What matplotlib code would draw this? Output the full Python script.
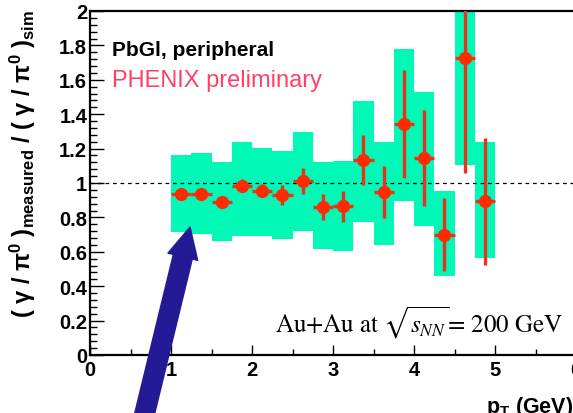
import matplotlib
matplotlib.use("Agg")
import matplotlib.pyplot as plt
from matplotlib.ticker import MultipleLocator

plt.rcParams['font.family'] = ['Liberation Sans', 'DejaVu Sans']
plt.rcParams['mathtext.fontset'] = 'custom'
plt.rcParams['mathtext.rm'] = 'Liberation Sans'
plt.rcParams['mathtext.it'] = 'Liberation Sans:italic'
plt.rcParams['mathtext.bf'] = 'Liberation Sans:bold'
plt.rcParams['mathtext.default'] = 'bf'

# double ratio per pT bin (0.25 GeV wide)
pt = [1.125, 1.375, 1.625, 1.875, 2.125, 2.375, 2.625, 2.875,
      3.125, 3.375, 3.625, 3.875, 4.125, 4.375, 4.625, 4.875]
ratio = [0.935, 0.935, 0.89, 0.985, 0.955, 0.93, 1.01, 0.86,
         0.864, 1.135, 0.946, 1.343, 1.145, 0.70, 1.725, 0.893]
stat = [0.02, 0.02, 0.02, 0.04, 0.037, 0.056, 0.075, 0.078,
        0.088, 0.146, 0.15, 0.315, 0.28, 0.21, 0.667, 0.37]
# systematic band limits
sys_lo = [0.713, 0.703, 0.665, 0.694, 0.69, 0.674, 0.719, 0.616,
          0.606, 0.775, 0.641, 0.897, 0.752, 0.457, 1.106, 0.562]
sys_hi = [1.165, 1.172, 1.124, 1.24, 1.205, 1.188, 1.294, 1.12,
          1.13, 1.478, 1.24, 1.779, 1.527, 0.955, 2.345, 1.236]
bin_w = 0.25

fig = plt.figure(figsize=(5.73, 4.14), dpi=100)
ax = fig.add_axes([90 / 573, 58 / 414, 486 / 573, 344 / 414])

heights = [h - l for h, l in zip(sys_hi, sys_lo)]
ax.bar(pt, heights, bottom=sys_lo, width=bin_w, color='#00f9b6', zorder=1)
ax.axhline(1.0, color='black', lw=0.9, ls=(0, (3, 3)), zorder=2)
ax.errorbar(pt, ratio, yerr=stat, xerr=bin_w / 2, fmt='o', ms=8.5,
            color='#ff2a00', ecolor='#e8341c', elinewidth=2.4, capsize=0,
            mec='#ff2a00', zorder=3)

ax.set_xlim(0, 6)
ax.set_ylim(0, 2)
ax.xaxis.set_major_locator(MultipleLocator(1))
ax.xaxis.set_minor_locator(MultipleLocator(0.5))
ax.yaxis.set_minor_locator(MultipleLocator(0.04))
ax.set_yticks([0, 0.2, 0.4, 0.6, 0.8, 1, 1.2, 1.4, 1.6, 1.8, 2])
ax.set_yticklabels(['0', '0.2', '0.4', '0.6', '0.8', '1', '1.2', '1.4', '1.6', '1.8', '2'])

ax.tick_params(axis='both', which='both', direction='in', top=False, right=False,
               labelsize=14.5, width=1)
ax.tick_params(axis='y', which='major', length=10, pad=2)
ax.tick_params(axis='y', which='minor', length=5)
ax.tick_params(axis='x', which='major', length=7, pad=3.5)
ax.tick_params(axis='x', which='minor', length=4)
for lab in ax.get_xticklabels() + ax.get_yticklabels():
    lab.set_fontweight('bold')

for s in ['left', 'bottom', 'top']:
    ax.spines[s].set_linewidth(1.6)
ax.spines['right'].set_visible(False)

ax.set_xlabel(r'$p_{T}$ (GeV)', fontsize=15.5, fontweight='bold', loc='right')
ax.xaxis.set_label_coords(0.994, -0.114)
ax.set_ylabel(r'$(\ \gamma\ /\ \pi^{0}\ )_{measured}\ /\ (\ \gamma\ /\ \pi^{0}\ )_{sim}$',
              fontsize=17, loc='top')
ax.yaxis.set_label_coords(-0.108, 1.006)

ax.text(0.045, 0.872, 'PbGl, peripheral', transform=ax.transAxes,
        fontsize=15, fontweight='bold', va='baseline')
ax.text(0.046, 0.781, 'PHENIX preliminary', transform=ax.transAxes,
        fontsize=17, color='#ff4068', va='baseline')
ax.text(0.973, 0.067, r'Au+Au at $\sqrt{\mathit{s}_{\mathit{NN}}}$= 200 GeV',
        transform=ax.transAxes, fontsize=18, family='STIXGeneral',
        math_fontfamily='stix', ha='right', va='baseline')

# pointer arrow onto the first bins
ax.annotate('', xy=(1.235, 0.744), xytext=(0.51, -0.66), xycoords='data',
            annotation_clip=False, zorder=10,
            arrowprops=dict(arrowstyle='simple,head_width=2.2,head_length=2.2,tail_width=1.4',
                            mutation_scale=10, color='#251a96', shrinkA=0, shrinkB=0,
                            clip_on=False))

fig.savefig('out.png', dpi=100)
